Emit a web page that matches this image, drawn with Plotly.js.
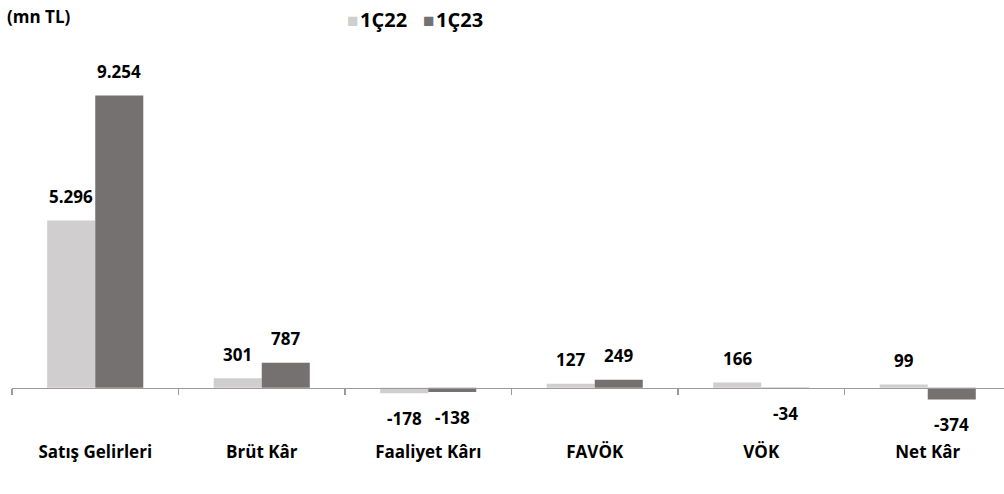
<!DOCTYPE html>
<html>
<head>
<meta charset="utf-8">
<script src="https://cdn.plot.ly/plotly-3.0.1.min.js"></script>
<style>html,body{margin:0;padding:0;background:#fff;}#chart{width:1004px;height:494px;}</style>
</head>
<body>
<div id="chart"></div>
<script>
const categories = ["Satış Gelirleri", "Brüt Kâr", "Faaliyet Kârı", "FAVÖK", "VÖK", "Net Kâr"];
const seriesNames = ["1Ç22", "1Ç23"];
const values1Q22 = [5296, 301, -178, 127, 166, 99];
const values1Q23 = [9254, 787, -138, 249, -34, -374];
const colors = ["#D0CECE", "#767171"];

function fmt(v) {
  const s = Math.abs(v).toString().replace(/\B(?=(\d{3})+(?!\d))/g, ".");
  return (v < 0 ? "-" : "") + s;
}

const FONT = "'Open Sans', Lato, sans-serif";
const series = [values1Q22, values1Q23];

const traces = series.map((vals, i) => ({
  type: "bar",
  name: seriesNames[i],
  x: categories,
  y: vals,
  marker: {color: colors[i]},
  hoverinfo: "skip",
  showlegend: false
}));

const annotations = [];
series.forEach((vals, i) => {
  vals.forEach((v, j) => {
    annotations.push({
      x: categories[j], y: v, xref: "x", yref: "y",
      text: "<b>" + fmt(v) + "</b>",
      showarrow: false,
      xshift: i === 0 ? -24 : 24,
      yshift: v >= 0 ? 24 : -25,
      yanchor: "middle", xanchor: "center",
      font: {family: FONT, size: 17, color: "#000"}
    });
  });
});

// legend drawn as text annotations (paper coordinates above the plot area)
const legendX = [0.336, 0.412];
seriesNames.forEach((n, i) => {
  annotations.push({
    xref: "paper", yref: "paper",
    x: legendX[i], y: 1.146, xanchor: "left", yanchor: "middle",
    showarrow: false,
    text: "<span style='color:" + colors[i] + ";font-size:19px'>■</span><span style='font-size:6px'> </span><b>" + n + "</b>",
    font: {family: FONT, size: 20, color: "#000"}
  });
});

const yMin = -1500, yMax = 10000;
const zeroPos = (0 - yMin) / (yMax - yMin);

const layout = {
  width: 1004, height: 494,
  margin: {l: 12, r: 0, t: 72, b: 59},
  paper_bgcolor: "#fff", plot_bgcolor: "#fff",
  barmode: "group",
  bargap: 0.423,
  bargroupgap: 0,
  showlegend: false,
  title: {
    text: "<b>(mn TL)</b>", xref: "container", yref: "container",
    x: 0.007, y: 0.965, xanchor: "left", yanchor: "middle",
    font: {family: FONT, size: 17, color: "#000"}
  },
  xaxis: {
    type: "category",
    range: [-0.5, 5.458],
    anchor: "free", position: zeroPos,
    showline: true, linecolor: "#9a9a9a", linewidth: 1.5,
    ticks: "outside", tickson: "boundaries", ticklen: 6, tickcolor: "#9a9a9a", tickwidth: 1.5,
    tickfont: {family: FONT, size: 17, color: "#000"},
    ticklabelstandoff: 48,
    showgrid: false, zeroline: false, fixedrange: true,
    tickvals: categories,
    ticktext: categories.map(c => "<b>" + c + "</b>")
  },
  yaxis: {
    range: [yMin, yMax],
    visible: false, showgrid: false, zeroline: false, fixedrange: true
  },
  annotations: annotations
};

Plotly.newPlot("chart", traces, layout, {displayModeBar: false, staticPlot: true});
</script>
</body>
</html>
